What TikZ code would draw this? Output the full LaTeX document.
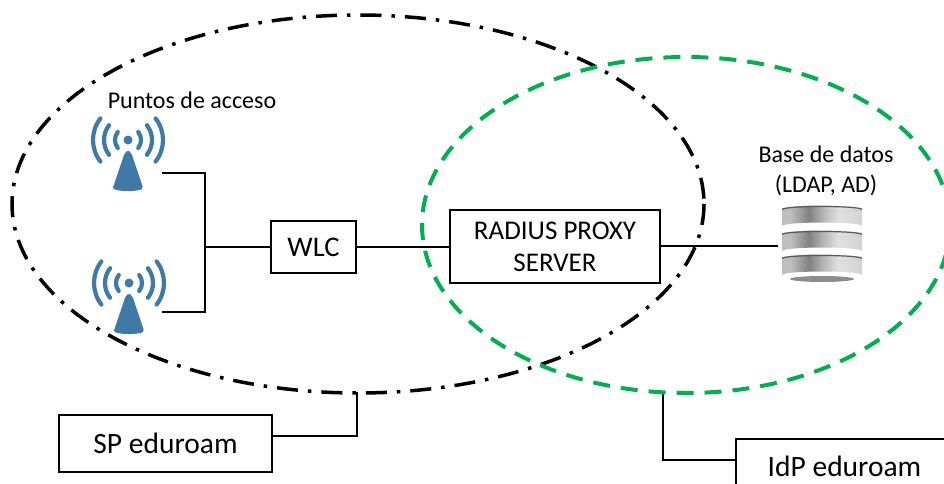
\documentclass[tikz,border=0pt]{standalone}
\usepackage{fontspec}
\setmainfont{Carlito}
\definecolor{antblue}{HTML}{3F7AA6}
\definecolor{idpgreen}{HTML}{00B050}
\pgfdeclarehorizontalshading{discshade}{100bp}{color(0bp)=(black!50); color(8bp)=(black!28); color(30bp)=(black!25); color(42bp)=(black!50); color(50bp)=(black!30); color(60bp)=(black!12); color(90bp)=(black!22); color(100bp)=(black!50)}
\tikzset{
	box/.style={draw,line width=1.5pt,fill=white,inner sep=0pt,align=center},
	wire/.style={line width=1.5pt,line join=miter},
	lbl/.style={inner sep=0pt,align=center,font=\fontsize{24}{30}\selectfont},
	boxtxt/.style={font=\fontsize{27}{32}\selectfont},
	bigtxt/.style={font=\fontsize{29.5}{34}\selectfont},
	antenna/.pic={
		\fill[antblue] (0,0) circle(4.5);
		\fill[antblue,rounded corners=3pt] (-15.5,49) -- (-3,12) -- (0,11) -- (3,12) -- (15.5,49) .. controls (5,51.5) and (-5,51.5) .. cycle;
		\foreach \r in {13,24,35}
			\draw[antblue,line width=4.2pt,line cap=round] (-38:\r) arc(-38:38:\r) (142:\r) arc(142:218:\r);
	},
}
\begin{document}
\begin{tikzpicture}[x=1pt,y=-1pt,line cap=butt]
	\useasboundingbox (0,0) rectangle (944,484);
	\clip (0,0) rectangle (944,484);
	\pic at (128,140) {antenna};
	\pic at (129,283) {antenna};
	\coordinate (ap1) at (162,173);
	\coordinate (ap2) at (162,312);
	\coordinate (bus) at (205,247);
	\node[lbl] (puntos) at (192,100) {Puntos de acceso};
	\node[lbl] (base) at (826,171) {Base de datos\\(LDAP, AD)};
	% discos de la base de datos
	\fill[black!45] (822,279) ellipse(32 and 3);
	\foreach \y in {254,230,205}{
		\shade[shading=discshade] (782,\y+4) -- (782,\y+21) arc(180:360:40 and 3.5) -- (862,\y+4) arc(0:-180:40 and 3.5);
		\fill[black!35] (782,\y+4) arc(180:0:40 and 3) arc(0:180:40 and 3);
		\draw[black!65,line width=1.2pt] (782,\y+4.5) arc(180:360:40 and 3);
	}
	\coordinate (bd) at (778,246);
	\node[box,font=\fontsize{28.5}{32}\selectfont,minimum width=85pt,minimum height=52pt] (wlc) at (313.5,247) {WLC};
	\node[box,boxtxt,minimum width=210pt,minimum height=73pt] (proxy) at (555,246.5) {RADIUS PROXY\\SERVER};
	\node[box,bigtxt,minimum width=213pt,minimum height=57pt] (sp) at (165.5,443.5) {SP eduroam};
	\node[box,anchor=north west,minimum width=260pt,minimum height=60pt] (idp) at (735,438) {};
	\node[lbl,bigtxt,anchor=base] (idptxt) at (844.5,476) {IdP eduroam};
	\coordinate (spend) at (357,392);
	\coordinate (idpend) at (663,392);
	\draw[wire] (ap1) -| (bus |- ap2) -- (ap2);
	\draw[wire] (bus) -- (wlc.west);
	\draw[wire] (wlc.east) -- (proxy.west |- wlc.east);
	\draw[wire] (proxy.east |- bd) -- (bd);
	\draw[wire] (sp.east |- 0,436) -| (spend);
	\draw[wire] (idp.west |- 0,460) -| (idpend);
	\draw[line width=3.5pt,dash pattern=on 21pt off 10pt on 3.5pt off 10pt] (358,204) ellipse(346 and 189);
	\draw[idpgreen,line width=4pt,dash pattern=on 17pt off 11pt] (686,225) ellipse(264 and 168);
\end{tikzpicture}
\end{document}
